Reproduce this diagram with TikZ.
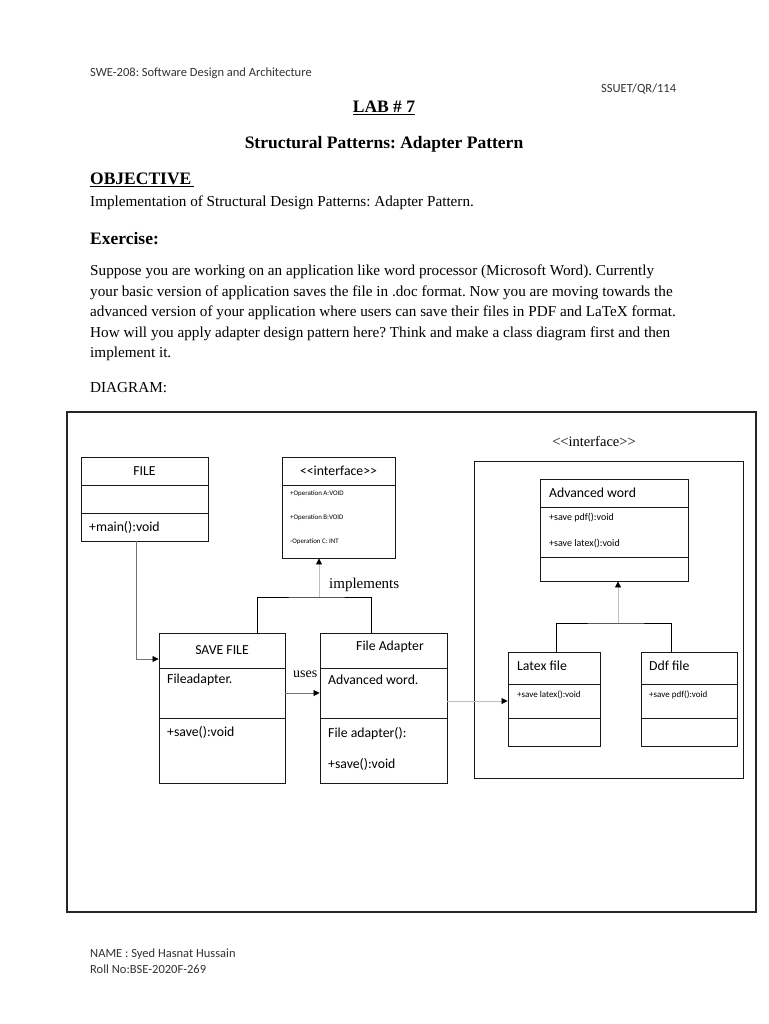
\documentclass[tikz,border=0pt]{standalone}
\usepackage{fontspec}
\setmainfont{Liberation Serif}
\newfontfamily\carlito{Carlito}
\usepackage{tikz}
\usetikzlibrary{positioning,arrows.meta}
\newcommand{\stereo}[1]{\textless\kern0pt\textless #1\textgreater\kern0pt\textgreater}
\frenchspacing

\begin{document}
\begin{tikzpicture}[x=1pt, y=-1pt,
  cls/.style={draw=black!90, line width=0.9pt, inner sep=0pt,
    font=\carlito\fontsize{13.75}{16}\selectfont},
  mytext/.style={anchor=west, inner sep=0pt, align=left},
  cal/.style={mytext, font=\carlito\fontsize{13.75}{16}\selectfont},
  calsm/.style={mytext, font=\carlito\fontsize{10}{12}\selectfont},
  hdr/.style={mytext, text=black!80, font=\carlito\fontsize{12.5}{16.5}\selectfont},
  serif/.style={mytext, font=\fontsize{15.2}{20.5}\selectfont},
  head/.style={mytext, font=\bfseries\fontsize{17.5}{21}\selectfont},
  arr/.style={-{Triangle[length=6pt,width=6pt,color=black]}},
  lt/.style={draw=black!25, line width=0.8pt},
  md/.style={draw=black!55, line width=0.8pt}]
  \path[use as bounding box, fill=white] (0,0) rectangle (768,1024);

  % page header and task
  \node[hdr] (course) at (90,73) {SWE-208: Software Design and Architecture};
  \node[hdr] (code) at (601,89) {SSUET/QR/114};
  \node[head, anchor=center] (lab) at (384,108) {\underline{LAB \# 7}};
  \node[head, anchor=center] (title) at (384,144) {Structural Patterns: Adapter Pattern};
  \node[head] (obj) at (90,180) {\underline{OBJECTIVE\,}};
  \node[serif] (objtext) at (90,203) {Implementation of Structural Design Patterns: Adapter Pattern.};
  \node[head] (ex) at (90,239) {Exercise:};
  \node[serif] (task) at (90,313)
    {Suppose you are working on an application like word processor (Microsoft Word). Currently\\
     your basic version of application saves the file in .doc format. Now you are moving towards the\\
     advanced version of your application where users can save their files in PDF and LaTeX format.\\
     How will you apply adapter design pattern here? Think and make a class diagram first and then\\
     implement it.};
  \node[serif] (diag) at (90,388) {DIAGRAM:};

  % diagram frame
  \node[draw=black!85, line width=1.2pt, minimum width=689pt, minimum height=500pt]
    (frame) at (411.5,662) {};

  % FILE
  \node[cls, minimum width=127pt, minimum height=28pt] (filet) at (144.5,471) {FILE};
  \node[cls, minimum width=127pt, minimum height=28pt] (filea) at (144.5,499) {};
  \node[cls, minimum width=127pt, minimum height=28pt] (fileo) at (144.5,527) {};
  \node[cal] at (89,527) {+main():void};

  % interface
  \node[cls, minimum width=113pt, minimum height=28pt] (intft) at (338.5,471) {\stereo{interface}};
  \node[cls, minimum width=113pt, minimum height=73pt] (intfb) at (338.5,521.5) {};
  \node[mytext, font=\carlito\fontsize{6.9}{24}\selectfont] (intfops) at (290,518)
    {+Operation A:VOID\\+Operation B:VOID\\-Operation C: INT};

  % SAVE FILE
  \node[cls, minimum width=126pt, minimum height=35pt] (savet) at (222,650.5) {SAVE FILE};
  \node[cls, minimum width=126pt, minimum height=50pt] (savea) at (222,693) {};
  \node[cls, minimum width=126pt, minimum height=65pt] (saveo) at (222,750.5) {};
  \node[cal] at (167,680) {Fileadapter.};
  \node[cal] at (167,732) {+save():void};

  % File Adapter
  \node[cls, minimum width=127pt, minimum height=35pt] (adat) at (383.5,650.5) {};
  \node[cls, minimum width=127pt, minimum height=50pt] (adaa) at (383.5,693) {};
  \node[cls, minimum width=127pt, minimum height=65pt] (adao) at (383.5,750.5) {};
  \node[cal, anchor=center] at (390,647) {File Adapter};
  \node[cal] at (328,680) {Advanced word.};
  \node[cal] at (328,734) {File adapter():};
  \node[cal] at (328,764) {+save():void};

  % adaptee group
  \node[serif, anchor=center, font=\fontsize{14.5}{16}\selectfont] (grouplbl) at (594,441) {\stereo{interface}};
  \node[cls, minimum width=269pt, minimum height=317pt] (group) at (608.5,619.5) {};

  \node[cls, minimum width=148pt, minimum height=28pt] (advt) at (614,493) {};
  \node[cls, minimum width=148pt, minimum height=50pt] (adva) at (614,532) {};
  \node[cls, minimum width=148pt, minimum height=24pt] (advo) at (614,569) {};
  \node[cal] at (549,493) {Advanced word};
  \node[calsm] at (549,518) {+save pdf():void};
  \node[calsm] at (549,544) {+save latex():void};

  \node[cls, minimum width=92pt, minimum height=32pt] (latt) at (554,668) {};
  \node[cls, minimum width=92pt, minimum height=34pt] (lata) at (554,701) {};
  \node[cls, minimum width=92pt, minimum height=28pt] (lato) at (554,732) {};
  \node[cal] at (517,666) {Latex file};
  \node[calsm, font=\carlito\fontsize{9}{11}\selectfont] at (517,695) {+save latex():void};

  \node[cls, minimum width=96pt, minimum height=32pt] (ddft) at (689,668) {};
  \node[cls, minimum width=96pt, minimum height=34pt] (ddfa) at (689,701) {};
  \node[cls, minimum width=96pt, minimum height=28pt] (ddfo) at (689,732) {};
  \node[cal] at (649,666) {Ddf file};
  \node[calsm, font=\carlito\fontsize{9}{11}\selectfont] at (649,695) {+save pdf():void};

  % connectors
  \draw[md, arr] ([xshift=-8.5pt]fileo.south) |- ([yshift=-8.5pt]savet.west);
  \coordinate (impl) at (319,597);
  \draw[line width=0.8pt] ([xshift=35pt]savet.north) |- (impl) -| ([xshift=-12.5pt]adat.north);
  \draw[lt, arr] (impl) -- (impl |- intfb.south);
  \node[serif, font=\fontsize{15}{16}\selectfont] (implbl) at (329,585) {implements};
  \draw[md, arr] (savea.east) -- (adaa.west);
  \node[serif, font=\fontsize{14}{16}\selectfont] (useslbl) at (293,674) {uses};
  \draw[lt, arr] (adaa.east |- lata.west) -- (lata.west);
  \coordinate (gen) at (618,623);
  \draw[line width=0.8pt] ([xshift=2pt]latt.north) |- (gen) -| ([xshift=-18pt]ddft.north);
  \draw[lt, arr] (gen) -- (gen |- advo.south);

  % footer
  \node[hdr] (name) at (90,961) {NAME : Syed Hasnat Hussain\\Roll No:BSE-2020F-269};
\end{tikzpicture}
\end{document}
